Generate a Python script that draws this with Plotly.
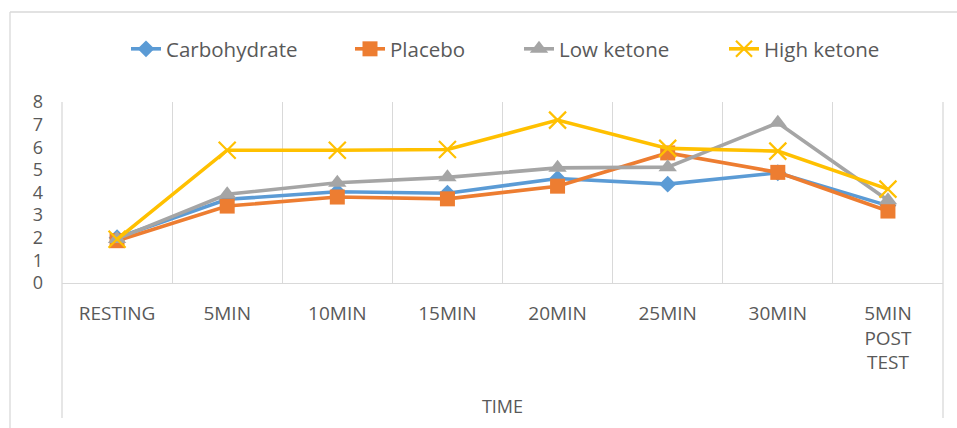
import plotly.graph_objects as go

categories = ["RESTING", "5MIN", "10MIN", "15MIN", "20MIN", "25MIN", "30MIN", "5MIN<br>POST<br>TEST"]
carbohydrate = [2.0, 3.7, 4.03, 3.97, 4.62, 4.37, 4.87, 3.42]
placebo = [1.87, 3.4, 3.8, 3.72, 4.28, 5.75, 4.89, 3.18]
low_ketone = [1.95, 3.92, 4.43, 4.67, 5.09, 5.12, 7.08, 3.66]
high_ketone = [1.93, 5.87, 5.87, 5.9, 7.2, 5.95, 5.83, 4.15]
y_ticks = [0, 1, 2, 3, 4, 5, 6, 7, 8]

W, H = 957, 428
L, R, T, B = 62, 943, 102, 283

def px_x(p):
    return (p - L) / (R - L)

def px_y(p):
    return (B - p) / (B - T)

GRID = "#D9D9D9"
TXT = "#595959"
FONT = "Open Sans"

fig = go.Figure()
series = [
    ("Carbohydrate", carbohydrate, "#5B9BD5", dict(symbol="diamond", size=13), "legend", 167),
    ("Placebo", placebo, "#ED7D31", dict(symbol="square", size=15), "legend2", 391),
    ("Low ketone", low_ketone, "#A5A5A5", dict(symbol="triangle-up", size=16), "legend3", 560),
    ("High ketone", high_ketone, "#FFC000", dict(symbol="x-thin-open", size=17, line=dict(width=2.2, color="#FFC000")), "legend4", 765),
]
legends = {}
for name, vals, col, mk, lg, text_x in series:
    fig.add_trace(go.Scatter(
        x=categories, y=vals, name=name, mode="lines+markers",
        line=dict(color=col, width=3.6),
        marker=dict(color=col, **mk),
        legend=lg,
    ))
    legends[lg] = dict(
        orientation="h", xref="container", yref="container",
        x=(text_x - 41) / W, y=1 - 49 / H, xanchor="left", yanchor="middle",
        font=dict(size=20.5, color=TXT, family=FONT),
        bgcolor="rgba(0,0,0,0)", borderwidth=0,
    )

shapes = []
# chart frame (top and left)
shapes.append(dict(type="line", xref="paper", yref="paper", x0=px_x(10), x1=px_x(W + 5), y0=px_y(12), y1=px_y(12), line=dict(color=GRID, width=1.3)))
shapes.append(dict(type="line", xref="paper", yref="paper", x0=px_x(10), x1=px_x(10), y0=px_y(12), y1=px_y(H + 5), line=dict(color=GRID, width=1.3)))
# extended left/right category axis boundaries
for xp in (L, R):
    shapes.append(dict(type="line", xref="paper", yref="paper", x0=px_x(xp), x1=px_x(xp), y0=px_y(T), y1=px_y(418), line=dict(color=GRID, width=1.3)))

fig.update_layout(
    width=W, height=H,
    margin=dict(l=L, r=W - R, t=T, b=H - B, autoexpand=False),
    paper_bgcolor="white", plot_bgcolor="white",
    font=dict(family=FONT, color=TXT),
    showlegend=True,
    xaxis=dict(
        type="category", range=[-0.5, 7.5], tickson="boundaries",
        showgrid=True, gridcolor=GRID, gridwidth=1.3,
        showline=True, linecolor=GRID, linewidth=1.3,
        ticks="", tickfont=dict(size=19, color=TXT, family=FONT),
        ticklabelstandoff=13,
        title=dict(text="TIME", font=dict(size=18, color=TXT, family=FONT), standoff=26),
        automargin=False,
    ),
    yaxis=dict(
        range=[0, 8], tickvals=y_ticks, showgrid=False, zeroline=False,
        showline=False, ticks="", tickfont=dict(size=18, color=TXT, family=FONT),
        ticklabelstandoff=18, automargin=False,
    ),
    shapes=shapes,
    **legends,
)

fig.write_html("out.html")
